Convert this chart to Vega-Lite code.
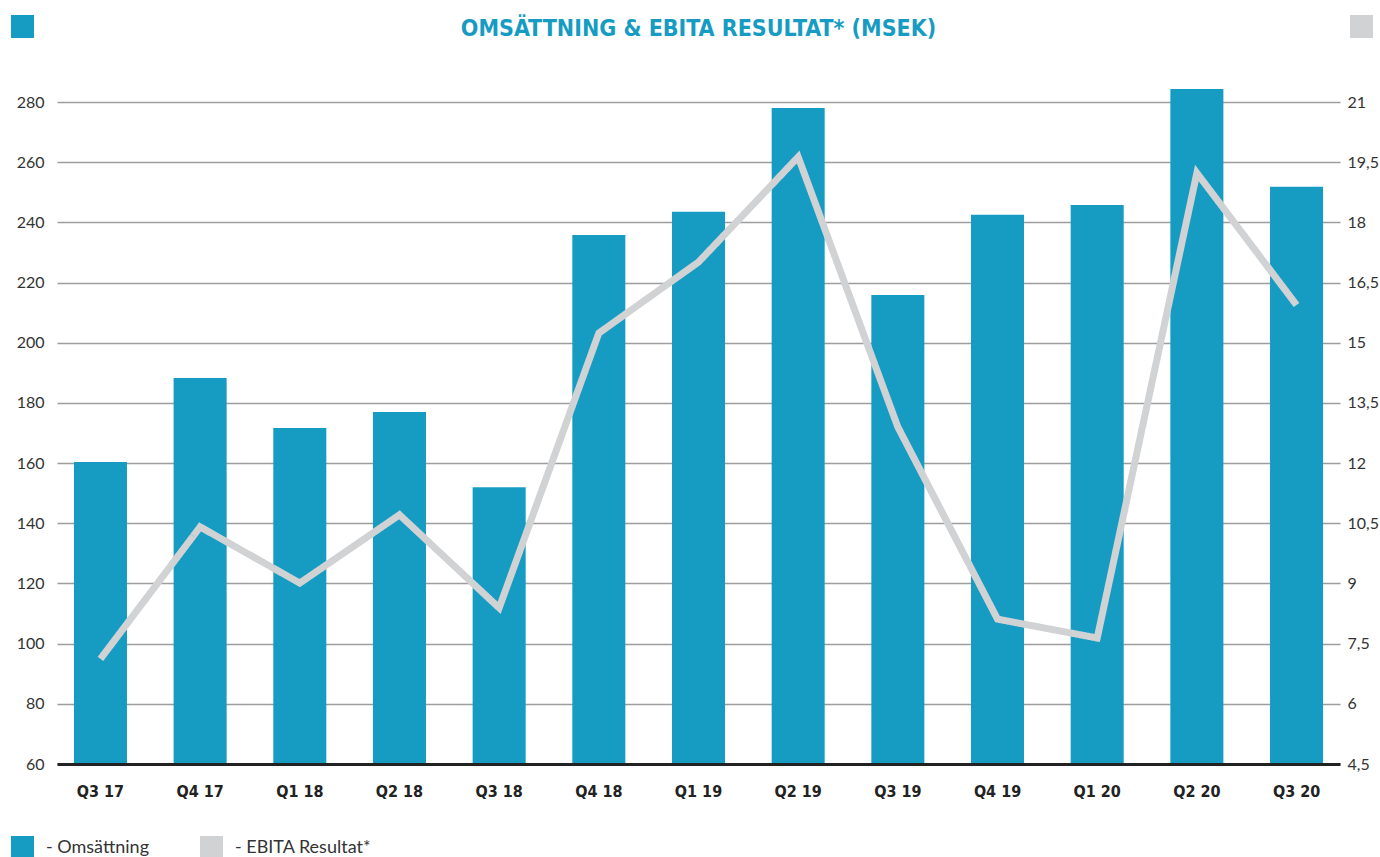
{
  "$schema": "https://vega.github.io/schema/vega-lite/v6.json",
  "width": 1283,
  "height": 662,
  "autosize": {"type": "none"},
  "padding": {"left": 57, "top": 102, "right": 40, "bottom": 93},
  "background": "white",
  "config": {"view": {"stroke": null}, "font": "Lato"},
  "title": {
    "text": "OMSÄTTNING & EBITA RESULTAT* (MSEK)",
    "font": "Liberation Sans Narrow, DejaVu Sans Condensed, sans-serif",
    "fontWeight": "bold",
    "fontSize": 23,
    "color": "#169cc3",
    "anchor": "middle",
    "frame": "group",
    "offset": -26
  },
  "data": {
    "values": [
      {"q": "Q3 17", "oms": 160.4, "ebita": 7.12},
      {"q": "Q4 17", "oms": 188.3, "ebita": 10.41},
      {"q": "Q1 18", "oms": 171.7, "ebita": 9.01},
      {"q": "Q2 18", "oms": 177.0, "ebita": 10.71},
      {"q": "Q3 18", "oms": 152.0, "ebita": 8.39},
      {"q": "Q4 18", "oms": 235.8, "ebita": 15.24},
      {"q": "Q1 19", "oms": 243.5, "ebita": 17.01},
      {"q": "Q2 19", "oms": 278.0, "ebita": 19.63},
      {"q": "Q3 19", "oms": 215.9, "ebita": 12.9},
      {"q": "Q4 19", "oms": 242.5, "ebita": 8.11},
      {"q": "Q1 20", "oms": 245.8, "ebita": 7.64},
      {"q": "Q2 20", "oms": 284.3, "ebita": 19.23},
      {"q": "Q3 20", "oms": 251.8, "ebita": 15.94}
    ]
  },
  "encoding": {
    "x": {
      "field": "q",
      "type": "ordinal",
      "sort": null,
      "scale": {"paddingInner": 0.468, "paddingOuter": 0.17},
      "axis": {
        "title": null,
        "labelAngle": 0,
        "labelFont": "Liberation Sans Narrow, DejaVu Sans Condensed, sans-serif",
        "labelFontWeight": "bold",
        "labelFontSize": 16,
        "labelColor": "#222222",
        "labelPadding": 19,
        "ticks": false,
        "domainColor": "#222222",
        "domainWidth": 3,
        "zindex": 1
      }
    }
  },
  "layer": [
    {
      "mark": {"type": "bar"},
      "encoding": {
        "y": {
          "field": "oms",
          "type": "quantitative",
          "scale": {"domain": [60, 280], "nice": false, "zero": false},
          "axis": {
            "title": null,
            "values": [60, 80, 100, 120, 140, 160, 180, 200, 220, 240, 260, 280],
            "domain": false,
            "ticks": false,
            "grid": true,
            "gridColor": "#9d9d9d",
            "gridWidth": 1.3,
            "labelFont": "Lato",
            "labelFontSize": 16,
            "labelColor": "#333333",
            "labelPadding": 13
          }
        },
        "y2": {"datum": 60},
        "color": {
          "datum": "Omsättning",
          "scale": {
            "domain": ["Omsättning", "EBITA Resultat*"],
            "range": ["#169cc3", "#d1d2d4"]
          },
          "legend": {
            "title": null,
            "orient": "none",
            "legendX": -46,
            "legendY": 734,
            "direction": "horizontal",
            "symbolType": "square",
            "symbolSize": 529,
            "symbolStrokeWidth": 0,
            "labelFont": "Lato",
            "labelFontSize": 18,
            "labelColor": "#333333",
            "labelOffset": 12,
            "columnPadding": 50,
            "labelExpr": "'- ' + datum.label",
            "encode": {
              "symbols": {
                "update": {
                  "fill": {"scale": "color", "field": "value"},
                  "stroke": {"value": "transparent"},
                  "opacity": {"value": 1}
                }
              }
            }
          }
        },
        "opacity": {
          "datum": "L",
          "type": "nominal",
          "scale": {"domain": ["L"], "range": [1]},
          "legend": {
            "title": null,
            "orient": "none",
            "legendX": -46,
            "legendY": -87,
            "symbolType": "square",
            "symbolSize": 529,
            "symbolStrokeWidth": 0,
            "symbolFillColor": "#169cc3",
            "labelOffset": 0,
            "labelFontSize": 1,
            "labelExpr": "''"
          }
        }
      }
    },
    {
      "mark": {"type": "line", "strokeWidth": 7, "strokeJoin": "miter", "strokeCap": "butt"},
      "encoding": {
        "y": {
          "field": "ebita",
          "type": "quantitative",
          "scale": {"domain": [4.5, 21], "nice": false, "zero": false},
          "axis": {
            "title": null,
            "orient": "right",
            "values": [4.5, 6, 7.5, 9, 10.5, 12, 13.5, 15, 16.5, 18, 19.5, 21],
            "labelExpr": "replace(toString(datum.value), '.', ',')",
            "domain": false,
            "ticks": false,
            "grid": false,
            "labelFont": "Lato",
            "labelFontSize": 16,
            "labelColor": "#333333",
            "labelPadding": 7
          }
        },
        "color": {"datum": "EBITA Resultat*"},
        "strokeDash": {
          "datum": "R",
          "type": "nominal",
          "scale": {"domain": ["R"], "range": [[1, 0]]},
          "legend": {
            "title": null,
            "orient": "none",
            "legendX": 1293,
            "legendY": -87,
            "symbolType": "square",
            "symbolSize": 529,
            "symbolStrokeWidth": 0,
            "symbolFillColor": "#d1d2d4",
            "symbolStrokeColor": "#d1d2d4",
            "labelOffset": 0,
            "labelFontSize": 1,
            "labelExpr": "''",
            "encode": {
              "symbols": {
                "update": {
                  "fill": {"value": "#d1d2d4"},
                  "opacity": {"value": 1}
                }
              }
            }
          }
        }
      }
    }
  ],
  "resolve": {"scale": {"y": "independent"}}
}
